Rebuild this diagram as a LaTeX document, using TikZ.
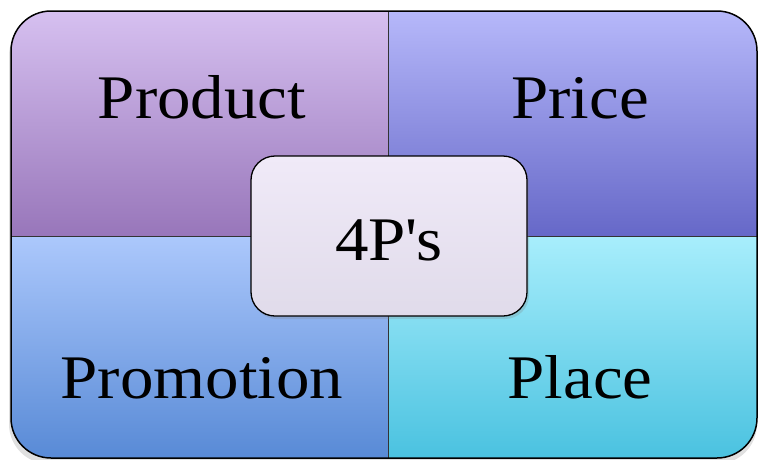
\documentclass[tikz,border=0pt]{standalone}
\usepackage{fontspec}
\setmainfont{Liberation Serif}[FakeStretch=1.08]
\usetikzlibrary{shadows}
\definecolor{prodTop}{RGB}{214,192,240}
\definecolor{prodBot}{RGB}{152,118,186}
\definecolor{priceTop}{RGB}{182,184,250}
\definecolor{priceBot}{RGB}{102,104,200}
\definecolor{promoTop}{RGB}{172,200,252}
\definecolor{promoBot}{RGB}{88,138,214}
\definecolor{placeTop}{RGB}{168,238,252}
\definecolor{placeBot}{RGB}{74,194,224}
\definecolor{hubTop}{RGB}{240,234,248}
\definecolor{hubBot}{RGB}{224,219,234}
\tikzset{
  label/.style={font=\fontsize{62}{62}\selectfont, text=black, anchor=base},
  hub/.style={draw=black, line width=1.3pt, rounded corners=24pt,
    top color=hubTop, bottom color=hubBot, minimum width=276pt, minimum height=160pt,
    drop shadow={shadow xshift=2pt, shadow yshift=-3pt, opacity=0.25}},
}
\begin{document}
\begin{tikzpicture}[x=1pt,y=-1pt]
\useasboundingbox (0,0) rectangle (758,459);
% soft shadow of the outer frame
\fill[black, opacity=0.12, rounded corners=40pt] (9,16) rectangle (757,464);
\begin{scope}
  \clip[rounded corners=40pt] (11,11) rectangle (757,458);
  \shade[top color=prodTop, bottom color=prodBot] (11,11) rectangle (388,236);
  \shade[top color=priceTop, bottom color=priceBot] (388,11) rectangle (757,236);
  \shade[top color=promoTop, bottom color=promoBot] (11,236) rectangle (388,458);
  \shade[top color=placeTop, bottom color=placeBot] (388,236) rectangle (757,458);
  \draw[black!80, line width=0.9pt] (388,11) -- (388,458);
  \draw[black!80, line width=0.9pt] (11,236) -- (757,236);
\end{scope}
\draw[black, line width=1.5pt, rounded corners=40pt] (11,11) rectangle (757,458);
\node[label] (product) at (202,118) {Product};
\node[label] (price) at (580,118) {Price};
\node[label] (promotion) at (202,398) {Promotion};
\node[label] (place) at (580,398) {Place};
\node[hub] (center) at (389,236) {};
\node[label] (fourp) at (389,260) {4P\textquotesingle s};
\end{tikzpicture}
\end{document}
